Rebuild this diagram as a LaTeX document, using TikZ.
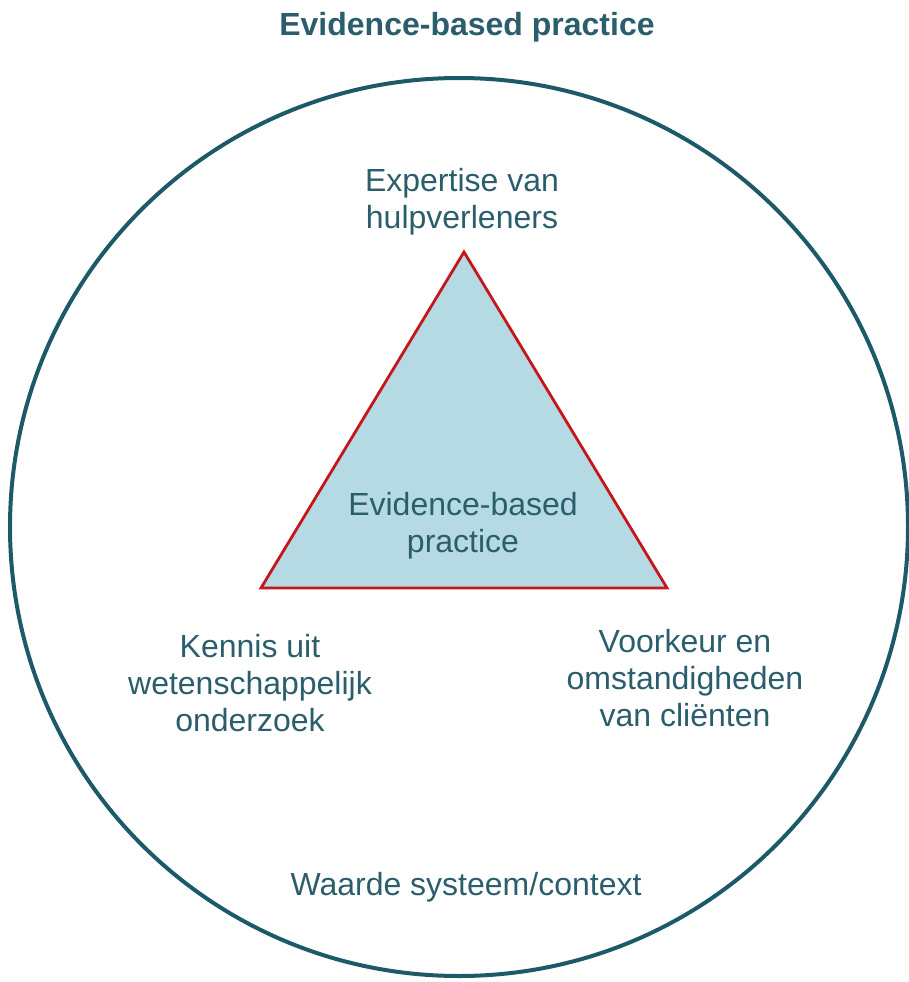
\documentclass[tikz,border=0pt]{standalone}
\usepackage{fontspec}
\setmainfont{Liberation Sans}
\usetikzlibrary{positioning}

\definecolor{tealtext}{HTML}{2B5E6C}
\definecolor{tealline}{HTML}{1D5A69}
\definecolor{trifill}{HTML}{B5DAE4}
\definecolor{trired}{HTML}{C4161C}

\begin{document}
\begin{tikzpicture}[
    x=1pt,
    y=-1pt,
    label/.style={
        text=tealtext,
        align=center,
        font=\fontsize{32}{37}\selectfont,
        inner sep=0pt,
        },
    title/.style={
        label,
        font=\fontsize{32}{37}\selectfont\bfseries,
        },
]

\useasboundingbox (0,0) rectangle (909,982);

% outer circle
\draw[tealline, line width=4pt] (459,527) circle (449);

% triangle corners
\coordinate (top) at (464,252);
\coordinate (left) at (261,588);
\coordinate (right) at (667,588);
\draw[trired, fill=trifill, line width=2.8pt, line join=miter]
    (top) -- (right) -- (left) -- cycle;

\node[title] (heading) at (467,27) {Evidence-based practice};

\node[label] (ebp) at (463,526) {Evidence-based\\practice};
\node[label] (expertise) at (462,202) {Expertise van\\hulpverleners};
\node[label] (kennis) at (250,683) {Kennis uit\\wetenschappelijk\\onderzoek};
\node[label] (voorkeur) at (685,678) {Voorkeur en\\omstandigheden\\van cliënten};
\node[label] (waarde) at (466,887) {Waarde systeem/context};

\end{tikzpicture}
\end{document}
